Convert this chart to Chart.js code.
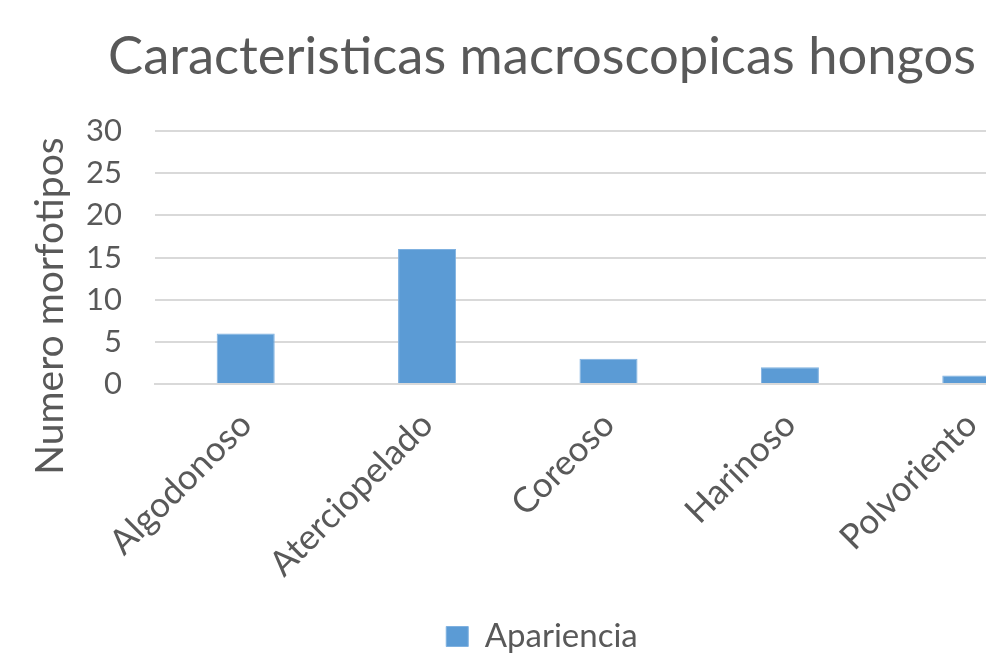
<!DOCTYPE html>
<html>
<head>
<meta charset="utf-8">
<script src="https://cdn.jsdelivr.net/npm/chart.js@4/dist/chart.umd.min.js"></script>
<style>
  html, body { margin: 0; padding: 0; background: #fff; overflow: hidden; }
</style>
</head>
<body>
<canvas id="grafico" width="1084" height="653"></canvas>
<script>
/* datos del grafico */
const categorias = ["Algodonoso", "Aterciopelado", "Coreoso", "Harinoso", "Polvoriento"];
const apariencia = [6, 16, 3, 2, 1];
const ticksY = [0, 5, 10, 15, 20, 25, 30];

const gris = "#595959";
const fuente = "Lato, 'Open Sans', sans-serif";

/* titulo del eje Y, un poco mas abajo que el centro del area como en Excel */
const tituloEjeY = {
  id: "tituloEjeY",
  afterDraw(chart) {
    const c = chart.ctx;
    const area = chart.chartArea;
    c.save();
    c.translate(63, area.bottom - 78);
    c.rotate(-Math.PI / 2);
    c.font = "39px " + fuente;
    c.fillStyle = gris;
    c.textAlign = "center";
    c.textBaseline = "alphabetic";
    c.fillText("Numero morfotipos", 0, 0);
    c.restore();
  },
};

const ctx = document.getElementById("grafico").getContext("2d");
const grafico = new Chart(ctx, {
  type: "bar",
  data: {
    labels: categorias,
    datasets: [
      {
        label: "Apariencia",
        data: apariencia,
        backgroundColor: "#5b9bd5",
        borderColor: "#7fb1e0",
        borderWidth: 1,
        barPercentage: 0.32,
        categoryPercentage: 1,
      },
    ],
  },
  options: {
    responsive: false,
    animation: false,
    layout: { padding: { top: 0, left: 0, right: 0, bottom: -10 } },
    scales: {
      x: {
        grid: { display: false, drawTicks: false },
        border: { color: "#d9d9d9", width: 2 },
        ticks: {
          color: gris,
          font: { family: fuente, size: 35 },
          minRotation: 45,
          maxRotation: 45,
          padding: 20,
        },
        afterFit: (scale) => { scale.height = 236; },
      },
      y: {
        min: 0,
        max: 30,
        afterBuildTicks: (scale) => {
          scale.ticks = ticksY.map((v) => ({ value: v }));
        },
        grid: { color: "#d9d9d9", lineWidth: 2, drawTicks: false },
        border: { display: false },
        ticks: {
          color: gris,
          font: { family: fuente, size: 31 },
          padding: 33,
        },
        afterFit: (scale) => { scale.width = 155; },
      },
      derecha: {
        type: "linear",
        position: "right",
        grid: { display: false, drawTicks: false },
        border: { display: false },
        ticks: { display: false },
        afterFit: (scale) => { scale.width = 22; },
      },
    },
    plugins: {
      title: {
        display: true,
        text: "Caracteristicas macroscopicas hongos",
        color: gris,
        font: { family: fuente, size: 52.5, weight: "normal" },
        padding: { top: 26, bottom: 42 },
      },
      legend: {
        position: "bottom",
        labels: {
          color: gris,
          font: { family: fuente, size: 33 },
          boxWidth: 22,
          boxHeight: 20,
          padding: 0,
        },
      },
      tooltip: { enabled: false },
    },
  },
  plugins: [tituloEjeY],
});
</script>
</body>
</html>
